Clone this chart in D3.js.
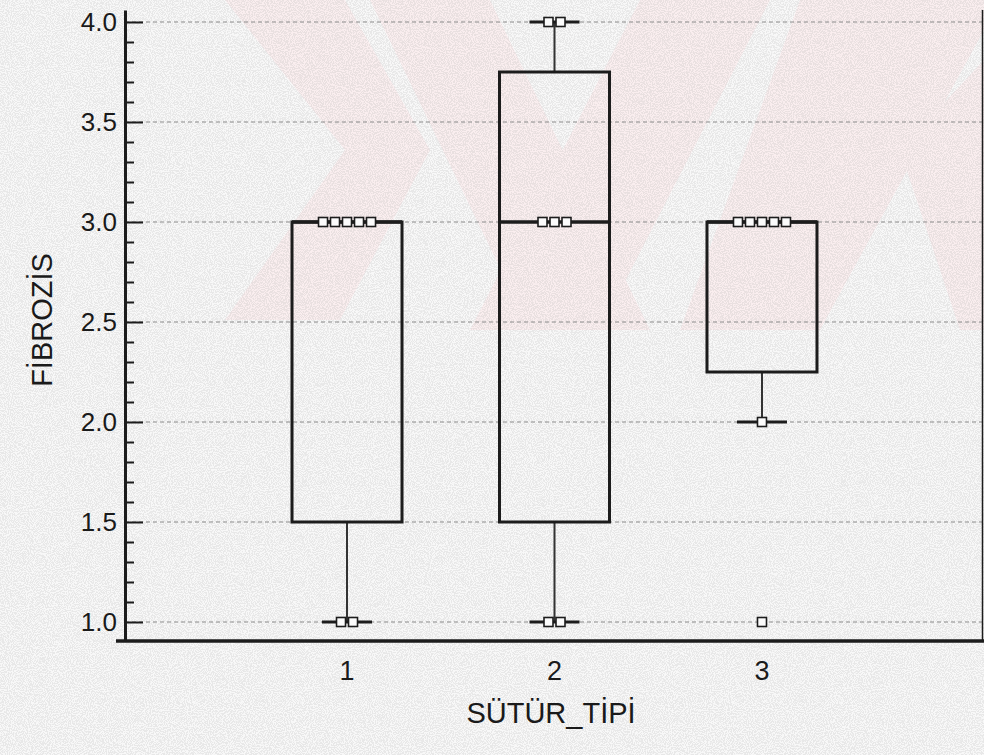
<!DOCTYPE html>
<html>
<head>
<meta charset="utf-8">
<script src="https://cdn.jsdelivr.net/npm/d3@7"></script>
<style>
  body { margin: 0; background: #f3f3f3; }
  svg { display: block; }
  text { font-family: "Liberation Sans", Arial, sans-serif; fill: #1a1a1a; }
</style>
</head>
<body>
<div id="chart"></div>
<script>
// data
var categories = ["1", "2", "3"];
var q1 = [1.5, 1.5, 2.25];
var median = [3, 3, 3];
var q3 = [3, 3.75, 3];
var whiskerLow = [1, 1, 2];
var whiskerHigh = [3, 4, 3];
var points1 = [1, 1, 3, 3, 3, 3, 3];
var points2 = [1, 1, 3, 3, 3, 4, 4];
var points3 = [1, 2, 3, 3, 3, 3, 3];
var yTicks = [1.0, 1.5, 2.0, 2.5, 3.0, 3.5, 4.0];

var settings = {
  width: 984,
  height: 755,
  left: 125,
  right: 984,
  top: 10,
  bottom: 641,
  boxWidth: 110,
  capWidth: 50,
  mark: 9,
  markStep: 12,
  ink: "#1c1c1c"
};

var groups = categories.map(function(c, i) {
  return {
    cat: c, q1: q1[i], med: median[i], q3: q3[i],
    lo: whiskerLow[i], hi: whiskerHigh[i],
    pts: [points1, points2, points3][i]
  };
});

var svg = d3.select("#chart").append("svg")
  .attr("width", settings.width)
  .attr("height", settings.height);

// scanned-paper grain
var defs = svg.append("defs");
var f = defs.append("filter").attr("id", "grain")
  .attr("x", 0).attr("y", 0).attr("width", "100%").attr("height", "100%");
f.append("feTurbulence").attr("type", "fractalNoise")
  .attr("baseFrequency", 0.95).attr("numOctaves", 1).attr("seed", 3);
f.append("feColorMatrix").attr("type", "matrix")
  .attr("values", "0 0 0 0 0.4  0 0 0 0 0.4  0 0 0 0 0.4  0 0 0 -12 6.6");

svg.append("rect").attr("width", settings.width).attr("height", settings.height)
  .attr("fill", "#f8f8f8");

// faint watermark bands
var wm = svg.append("g").attr("fill", "#fce8ea").attr("opacity", 0.6);
var bands = [
  [[225, 0], [345, 0], [430, 150], [345, 150]],
  [[345, 150], [430, 150], [340, 320], [225, 320]],
  [[370, 0], [490, 0], [650, 330], [530, 330]],
  [[640, 0], [770, 0], [600, 330], [470, 330]],
  [[800, 0], [984, 0], [984, 30], [820, 330], [680, 330]],
  [[900, 150], [984, 60], [984, 330], [960, 330]]
];
wm.selectAll("polygon").data(bands).enter().append("polygon")
  .attr("points", function(d) { return d.map(function(p) { return p.join(","); }).join(" "); });

svg.append("rect").attr("width", settings.width).attr("height", settings.height)
  .attr("filter", "url(#grain)").attr("opacity", 0.2);

var x = d3.scalePoint()
  .domain(categories)
  .range([settings.left, settings.right])
  .padding(1.07);

var y = d3.scaleLinear()
  .domain([0.905, 4.06])
  .range([settings.bottom, settings.top]);

// dashed grid
svg.append("g").selectAll("line").data(yTicks).enter().append("line")
  .attr("x1", settings.left).attr("x2", settings.right)
  .attr("y1", function(d) { return y(d); }).attr("y2", function(d) { return y(d); })
  .attr("stroke", "#8a8a8a").attr("stroke-width", 1)
  .attr("stroke-dasharray", "4,3");

// right frame edge
svg.append("line")
  .attr("x1", settings.right - 1.5).attr("x2", settings.right - 1.5)
  .attr("y1", settings.top).attr("y2", settings.bottom)
  .attr("stroke", settings.ink).attr("stroke-width", 1.5);

var box = svg.append("g").selectAll("g").data(groups).enter().append("g")
  .attr("transform", function(d) { return "translate(" + x(d.cat) + ",0)"; });

// whiskers
box.append("line")
  .attr("y1", function(d) { return y(d.lo); })
  .attr("y2", function(d) { return y(d.q1); })
  .attr("stroke", "#333").attr("stroke-width", 2);
box.append("line")
  .attr("y1", function(d) { return y(d.q3); })
  .attr("y2", function(d) { return y(d.hi); })
  .attr("stroke", "#333").attr("stroke-width", 2);

box.filter(function(d) { return d.lo < d.q1; }).append("line")
  .attr("x1", -settings.capWidth / 2).attr("x2", settings.capWidth / 2)
  .attr("y1", function(d) { return y(d.lo); }).attr("y2", function(d) { return y(d.lo); })
  .attr("stroke", settings.ink).attr("stroke-width", 3);
box.filter(function(d) { return d.hi > d.q3; }).append("line")
  .attr("x1", -settings.capWidth / 2).attr("x2", settings.capWidth / 2)
  .attr("y1", function(d) { return y(d.hi); }).attr("y2", function(d) { return y(d.hi); })
  .attr("stroke", settings.ink).attr("stroke-width", 3);

box.append("rect")
  .attr("x", -settings.boxWidth / 2)
  .attr("width", settings.boxWidth)
  .attr("y", function(d) { return y(d.q3); })
  .attr("height", function(d) { return y(d.q1) - y(d.q3); })
  .attr("fill", "none")
  .attr("stroke", settings.ink).attr("stroke-width", 3);

box.append("line")
  .attr("x1", -settings.boxWidth / 2).attr("x2", settings.boxWidth / 2)
  .attr("y1", function(d) { return y(d.med); }).attr("y2", function(d) { return y(d.med); })
  .attr("stroke", settings.ink).attr("stroke-width", 3.5);

// data markers, stacked side by side where values repeat
box.each(function(d) {
  var counts = d3.rollups(d.pts, function(v) { return v.length; }, function(v) { return v; });
  var marks = [];
  counts.forEach(function(c) {
    for (var j = 0; j < c[1]; j++) {
      marks.push({ v: c[0], off: (j - (c[1] - 1) / 2) * settings.markStep });
    }
  });
  d3.select(this).selectAll("rect.mark").data(marks).enter().append("rect")
    .attr("class", "mark")
    .attr("x", function(m) { return m.off - settings.mark / 2; })
    .attr("y", function(m) { return y(m.v) - settings.mark / 2; })
    .attr("width", settings.mark).attr("height", settings.mark)
    .attr("fill", "#fbfbfb")
    .attr("stroke", settings.ink).attr("stroke-width", 1.6);
});

// y axis: major ticks inward, minor every 0.1
var minor = d3.range(10, 41).map(function(i) { return i / 10; })
  .filter(function(v) { return Math.round(v * 10) % 5 !== 0; });

svg.append("g")
  .attr("transform", "translate(" + settings.left + ",0)")
  .call(d3.axisLeft(y).tickValues(minor).tickSize(-9).tickFormat(""))
  .call(function(g) { g.select(".domain").remove(); })
  .selectAll("line").attr("stroke", settings.ink).attr("stroke-width", 2);

var yAxis = svg.append("g")
  .attr("transform", "translate(" + settings.left + ",0)")
  .call(d3.axisLeft(y).tickValues(yTicks).tickSizeInner(-18).tickSizeOuter(0)
    .tickPadding(8).tickFormat(d3.format(".1f")));
yAxis.select(".domain").attr("stroke", settings.ink).attr("stroke-width", 3);
yAxis.selectAll(".tick line").attr("stroke", settings.ink).attr("stroke-width", 2);
yAxis.selectAll("text").attr("font-size", 26).attr("fill", "#1a1a1a")
  .attr("font-family", "Liberation Sans, Arial, sans-serif");

// x axis
svg.append("line")
  .attr("x1", settings.left - 9).attr("x2", settings.right)
  .attr("y1", settings.bottom).attr("y2", settings.bottom)
  .attr("stroke", settings.ink).attr("stroke-width", 3.5);

svg.append("g").selectAll("text").data(categories).enter().append("text")
  .attr("x", function(d) { return x(d); })
  .attr("y", 680)
  .attr("text-anchor", "middle")
  .attr("font-size", 27)
  .text(function(d) { return d; });

svg.append("text")
  .attr("x", 551).attr("y", 723)
  .attr("text-anchor", "middle")
  .attr("font-size", 29)
  .text("SÜTÜR_TİPİ");

svg.append("text")
  .attr("transform", "translate(52,320) rotate(-90)")
  .attr("text-anchor", "middle")
  .attr("font-size", 29)
  .text("FİBROZİS");
</script>
</body>
</html>
